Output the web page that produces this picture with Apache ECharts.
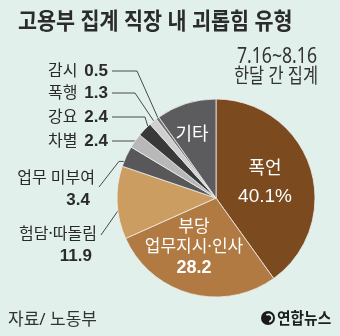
<!DOCTYPE html>
<html>
<head>
<meta charset="utf-8">
<script src="https://cdn.jsdelivr.net/npm/echarts@6/dist/echarts.min.js"></script>
<style>
  html, body { margin: 0; padding: 0; background: #e1f0ea; }
  #chart { width: 340px; height: 336px; }
</style>
</head>
<body>
<div id="chart"></div>
<script>
// Workplace harassment types recorded by the labour ministry (share, %)
const categories = ['폭언', '부당 업무지시·인사', '험담·따돌림', '업무 미부여', '차별', '강요', '폭행', '감시', '기타'];
const shares = [40.1, 28.2, 11.9, 3.4, 2.4, 2.4, 1.3, 0.5, 9.8];
const sliceColors = ['#7b4a1e', '#b07a42', '#cc9d60', '#58585a', '#b8b8b8', '#393939', '#cfcfcf', '#727272', '#5c5c5f'];

const titleText = '고용부 집계 직장 내 괴롭힘 유형';
const periodText = ['7.16~8.16', '한달 간 집계'];
const sourceText = '자료/ 노동부';
const brandText = '연합뉴스';

const KR = "'Noto Sans', 'Noto Sans CJK KR', sans-serif";
const NUM = "'Liberation Sans', Arial, sans-serif";
const INK = '#2a2a2a';

const CENTER = [216, 198];
const RADIUS = 99;

// where each label sits; outside labels also get a leader line
const spots = {
  '폭언': { inside: true, x: 265, y: 184 },
  '부당 업무지시·인사': { inside: true, x: 194, y: 248 },
  '기타': { inside: true, x: 192, y: 135 },
  '험담·따돌림': { x: 97, y: 245, lineY: 235, k: 0.67, flat: 25 },
  '업무 미부여': { x: 95, y: 189, lineY: 187, k: 0.88, flat: 18 },
  '차별': { x: 108, y: 141, k: 0.97, bend: 135 },
  '강요': { x: 108, y: 117, k: 0.92, bend: 145 },
  '폭행': { x: 108, y: 93, k: 0.92, bend: 135 },
  '감시': { x: 108, y: 71, k: 0.98, bend: 137 }
};

// mid-angle point of a slice, at fraction k of the radius
const total = shares.reduce((a, b) => a + b, 0);
function slicePoint(idx, k) {
  let before = 0;
  for (let i = 0; i < idx; i++) before += shares[i];
  const frac = (before + shares[idx] / 2) / total;
  const ang = frac * Math.PI * 2; // clockwise from 12 o'clock
  return [CENTER[0] + Math.sin(ang) * RADIUS * k, CENTER[1] - Math.cos(ang) * RADIUS * k];
}

function labelFor(name, value) {
  const v = value.toFixed(1);
  if (name === '폭언') return '{t|' + name + '}\n{p|' + v + '%}';
  if (name === '기타') return '{t|' + name + '}';
  if (name === '부당 업무지시·인사') {
    const parts = name.split(' ');
    return '{n|' + parts[0] + '}\n{n|' + parts[1] + '}\n{b|' + v + '}';
  }
  if (name === '험담·따돌림' || name === '업무 미부여') return '{n|' + name + '}\n{v|' + v + '}';
  return '{n|' + name + '}{w|' + v + '}';
}

const insideRich = {
  t: { fontFamily: KR, fontSize: 18, color: '#ffffff', align: 'center', lineHeight: 26 },
  n: { fontFamily: KR, fontSize: 17, color: '#ffffff', align: 'center', lineHeight: 20 },
  p: { fontFamily: NUM, fontSize: 19, color: '#ffffff', align: 'center', lineHeight: 30 },
  b: { fontFamily: NUM, fontSize: 18, fontWeight: 'bold', color: '#ffffff', align: 'center', lineHeight: 22 }
};
const outsideRich = {
  n: { fontFamily: KR, fontSize: 16, color: INK, align: 'right', lineHeight: 22 },
  v: { fontFamily: NUM, fontSize: 17, fontWeight: 'bold', color: INK, align: 'right', lineHeight: 22, padding: [0, 5, 0, 0] },
  w: { fontFamily: NUM, fontSize: 17, fontWeight: 'bold', color: INK, align: 'right', padding: [0, 0, 0, 7] }
};

const pieData = categories.map((name, i) => {
  const inside = !!spots[name].inside;
  return {
    name: name,
    value: shares[i],
    itemStyle: { color: sliceColors[i] },
    label: {
      position: inside ? 'inside' : 'outside',
      rich: inside ? insideRich : outsideRich
    },
    labelLine: { show: !inside }
  };
});

const chart = echarts.init(document.getElementById('chart'), null, { renderer: 'canvas' });

chart.setOption({
  backgroundColor: '#e1f0ea',
  animation: false,
  graphic: [
    {
      type: 'text', x: 18, y: 22, scaleX: 0.9,
      style: { text: titleText, font: 'bold 23px ' + KR, fill: '#2b2b2b', textAlign: 'left', textVerticalAlign: 'middle' }
    },
    {
      type: 'text', x: 317, y: 57, scaleX: 0.84,
      style: { text: periodText[0], font: 'normal 21px ' + KR, fill: '#333333', textAlign: 'right', textVerticalAlign: 'middle' }
    },
    {
      type: 'text', x: 318, y: 77, scaleX: 0.82,
      style: { text: periodText[1], font: 'normal 20px ' + KR, fill: '#333333', textAlign: 'right', textVerticalAlign: 'middle' }
    },
    {
      type: 'text', x: 8, y: 320,
      style: { text: sourceText, font: 'normal 17px ' + KR, fill: '#333333', textAlign: 'left', textVerticalAlign: 'middle' }
    },
    {
      type: 'group', x: 268, y: 318,
      children: [
        { type: 'circle', shape: { cx: 0, cy: 0, r: 7 }, style: { fill: '#1a1a1a' } },
        { type: 'arc', shape: { cx: 0.5, cy: 0, r: 3.6, startAngle: -2.2, endAngle: 1.4 }, style: { stroke: '#e1f0ea', lineWidth: 1.8, fill: null } }
      ]
    },
    {
      type: 'text', x: 277, y: 319, scaleX: 0.92,
      style: { text: brandText, font: 'bold 16px ' + KR, fill: '#1f1f1f', textAlign: 'left', textVerticalAlign: 'middle' }
    }
  ],
  series: [
    {
      type: 'pie',
      center: CENTER,
      radius: RADIUS,
      startAngle: 90,
      clockwise: true,
      avoidLabelOverlap: false,
      data: pieData,
      itemStyle: { borderColor: '#eeeeee', borderWidth: 0.8 },
      label: {
        show: true,
        formatter: (p) => labelFor(p.name, p.value)
      },
      labelLine: {
        show: true,
        length: 10,
        length2: 10,
        lineStyle: { color: '#4a4a4a', width: 1 }
      },
      labelLayout: (params) => {
        const name = categories[params.dataIndex];
        const s = spots[name];
        if (s.inside) {
          return { x: s.x, y: s.y, align: 'center', verticalAlign: 'middle' };
        }
        const inner = slicePoint(params.dataIndex, s.k);
        let pts;
        if (s.flat) {
          pts = [[s.x + 4, s.lineY], [inner[0] - s.flat, inner[1]], inner];
        } else {
          pts = [[s.x + 4, s.y], [s.bend, s.y], inner];
        }
        return { x: s.x, y: s.y, align: 'right', verticalAlign: 'middle', labelLinePoints: pts };
      }
    }
  ]
});
</script>
</body>
</html>
